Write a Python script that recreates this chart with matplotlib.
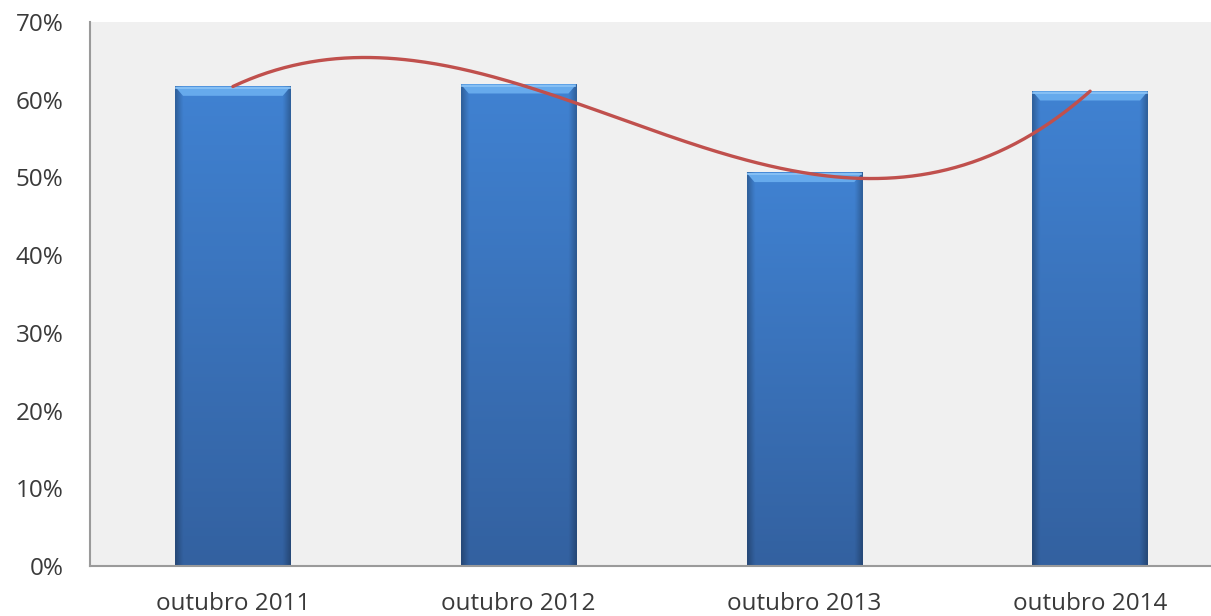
import numpy as np
import matplotlib
matplotlib.use('Agg')
import matplotlib.pyplot as plt
from matplotlib.patches import Polygon
from matplotlib.ticker import PercentFormatter

categories = ['outubro 2011', 'outubro 2012', 'outubro 2013', 'outubro 2014']
values = [0.617, 0.620, 0.506, 0.611]
y_ticks = [0.0, 0.1, 0.2, 0.3, 0.4, 0.5, 0.6, 0.7]

BAR_WIDTH = 0.405
TOP_COLOR = np.array([64, 130, 210]) / 255
BOTTOM_COLOR = np.array([51, 97, 160]) / 255
BEVEL_COLOR = '#66aaec'
BEVEL_EDGE = '#8cc4f6'
TREND_COLOR = '#c0504d'
TEXT_COLOR = '#3a3a3a'

plt.rcParams['font.family'] = ['Open Sans', 'DejaVu Sans']

fig = plt.figure(figsize=(12.11, 6.16), dpi=100)
# plot area runs past the right edge of the picture, like the source
ax = fig.add_axes([90 / 1211, 50 / 616, 1143 / 1211, 544 / 616])
ax.set_facecolor('#f0f0f0')

x = np.arange(len(categories))

for xi, val in zip(x, values):
    # gradient body: light at the top, darker at the bottom, shaded edges
    rows, cols = 200, 60
    t = np.linspace(0, 1, rows)[:, None, None]
    body = TOP_COLOR * (1 - t) + BOTTOM_COLOR * t
    edge = np.ones(cols)
    edge[:4] = np.linspace(0.75, 0.95, 4)
    edge[-4:] = np.linspace(0.95, 0.75, 4)
    img = np.clip(body * edge[None, :, None], 0, 1)
    left, right = xi - BAR_WIDTH / 2, xi + BAR_WIDTH / 2
    ax.imshow(img, extent=[left, right, 0, val], aspect='auto', zorder=2,
              interpolation='bilinear')
    # top bevel
    bev_h = 0.012
    bev_w = 0.028
    ax.add_patch(Polygon([[left, val], [right, val], [right - bev_w, val - bev_h],
                          [left + bev_w, val - bev_h]], closed=True,
                         facecolor=BEVEL_COLOR, edgecolor='none', zorder=3))
    ax.plot([left + 0.004, right - 0.004], [val - 0.002, val - 0.002],
            color=BEVEL_EDGE, lw=1.2, zorder=3)

# third order trendline through the bar values
coef = np.polyfit(x, values, 3)
xs = np.linspace(x[0], x[-1], 300)
ax.plot(xs, np.polyval(coef, xs), color=TREND_COLOR, lw=2.4, zorder=4,
        solid_capstyle='round')

ax.set_xlim(-0.5, 3.5)
ax.set_ylim(0, 0.7)
ax.set_xticks(x)
ax.set_xticklabels(categories, fontsize=17.5, color=TEXT_COLOR)
ax.set_yticks(y_ticks)
ax.yaxis.set_major_formatter(PercentFormatter(1.0, decimals=0))
ax.tick_params(axis='y', labelsize=17.5, labelcolor=TEXT_COLOR, length=0, pad=19)
ax.tick_params(axis='x', length=0, pad=19)

for side in ['top', 'right']:
    ax.spines[side].set_visible(False)
for side in ['left', 'bottom']:
    ax.spines[side].set_color('#9a9a9a')
    ax.spines[side].set_linewidth(1.5)

fig.savefig('out.png', dpi=100)
